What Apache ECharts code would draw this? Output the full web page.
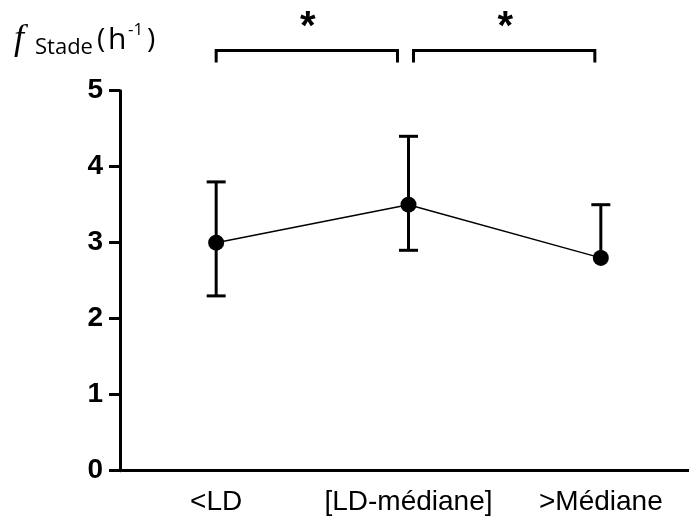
<!DOCTYPE html>
<html><head><meta charset="utf-8">
<script src="https://cdn.jsdelivr.net/npm/echarts@6/dist/echarts.min.js"></script>
<style>html,body{margin:0;padding:0;background:#fff}#c{width:689px;height:517px}</style>
</head><body><div id="c"></div>
<script>
// ---- data ----
const categories = ['<LD', '[LD-médiane]', '>Médiane'];
const means = [3.0, 3.5, 2.8];
const upperErr = [3.8, 4.4, 3.5];
const lowerErr = [2.3, 2.9, null];
const yTicks = [0, 1, 2, 3, 4, 5];
const comparisons = [[0, 1], [1, 2]];
const comparisonLabels = ['*', '*'];
const bracketLevel = 5.53;
const starLevel = 5.83;

// ---- chart ----
const chart = echarts.init(document.getElementById('c'), null, {renderer: 'canvas'});
const errData = categories.map((c, i) => [i, means[i], upperErr[i], lowerErr[i]]);
const bracketData = comparisons.map((p, k) => [p[0], p[1], k]);
const bracketOffsets = [[0, -11], [5, -6]];

const option = {
  backgroundColor: '#fff',
  animation: false,
  grid: {left: 120, width: 577, top: 90.7, height: 380, containLabel: false, outerBoundsMode: 'none'},
  xAxis: {
    type: 'category', data: categories, boundaryGap: true,
    axisLine: {lineStyle: {color: '#000', width: 3}},
    axisTick: {alignWithLabel: true, length: 10, lineStyle: {color: '#000', width: 3}},
    axisLabel: {color: '#000', fontSize: 28, fontFamily: 'Liberation Sans, Arial', margin: 18, interval: 0, hideOverlap: false},
    splitLine: {show: false}
  },
  yAxis: {
    type: 'value', min: yTicks[0], max: yTicks[yTicks.length - 1], interval: 1,
    axisLine: {show: true, lineStyle: {color: '#000', width: 3}},
    axisTick: {show: true, length: 11, lineStyle: {color: '#000', width: 3}},
    axisLabel: {color: '#000', fontSize: 28, fontWeight: 'bold', fontFamily: 'Liberation Sans, Arial', margin: 17},
    splitLine: {show: false}
  },
  graphic: [
    {type: 'text', left: 14, top: 22, style: {text: 'f', font: 'italic 36px "Liberation Serif", serif', fill: '#000'}},
    {type: 'text', left: 35, top: 37, style: {text: 'Stade', font: '22px "Open Sans", sans-serif', fill: '#000'}},
    {type: 'text', left: 97, top: 26, style: {text: '(', font: '28px "Open Sans", sans-serif', fill: '#000'}},
    {type: 'text', left: 108, top: 25, style: {text: 'h', font: '30px "Open Sans", sans-serif', fill: '#000'}},
    {type: 'text', left: 128, top: 22, style: {text: '-1', font: '17px "Open Sans", sans-serif', fill: '#000'}},
    {type: 'text', left: 147, top: 26, style: {text: ')', font: '28px "Open Sans", sans-serif', fill: '#000'}}
  ],
  series: [
    {
      type: 'line', data: means, symbol: 'circle', symbolSize: 16,
      itemStyle: {color: '#000'}, lineStyle: {color: '#000', width: 1.5}, z: 3
    },
    {
      type: 'custom', data: errData, z: 2,
      renderItem: function (params, api) {
        const i = api.value(0);
        const m = api.coord([i, api.value(1)]);
        const hi = api.coord([i, api.value(2)]);
        const loV = api.value(3);
        const hasLo = !(loV == null || isNaN(loV));
        const lo = hasLo ? api.coord([i, loV]) : m;
        const cap = 9.5;
        const st = {stroke: '#000', lineWidth: 3};
        const children = [
          {type: 'line', shape: {x1: m[0], y1: hi[1], x2: m[0], y2: lo[1]}, style: st},
          {type: 'line', shape: {x1: m[0] - cap, y1: hi[1], x2: m[0] + cap, y2: hi[1]}, style: st}
        ];
        if (hasLo) {
          children.push({type: 'line', shape: {x1: m[0] - cap, y1: lo[1], x2: m[0] + cap, y2: lo[1]}, style: st});
        }
        return {type: 'group', children: children};
      }
    },
    {
      type: 'custom', data: bracketData, clip: false, z: 4,
      renderItem: function (params, api) {
        const k = api.value(2);
        const off = bracketOffsets[k];
        const a = api.coord([api.value(0), bracketLevel]);
        const b = api.coord([api.value(1), bracketLevel]);
        const x1 = a[0] + off[0], x2 = b[0] + off[1], y = a[1];
        const s = api.coord([api.value(0), starLevel]);
        return {type: 'group', children: [
          {type: 'polyline', shape: {points: [[x1, y + 12], [x1, y], [x2, y], [x2, y + 12]]},
           style: {stroke: '#000', lineWidth: 3, fill: null}},
          {type: 'text', style: {text: comparisonLabels[k], x: (x1 + x2) / 2 + 1, y: s[1],
            align: 'center', verticalAlign: 'middle', font: 'bold 40px "Liberation Sans", Arial', fill: '#000'}}
        ]};
      }
    }
  ]
};
chart.setOption(option);
</script></body></html>
